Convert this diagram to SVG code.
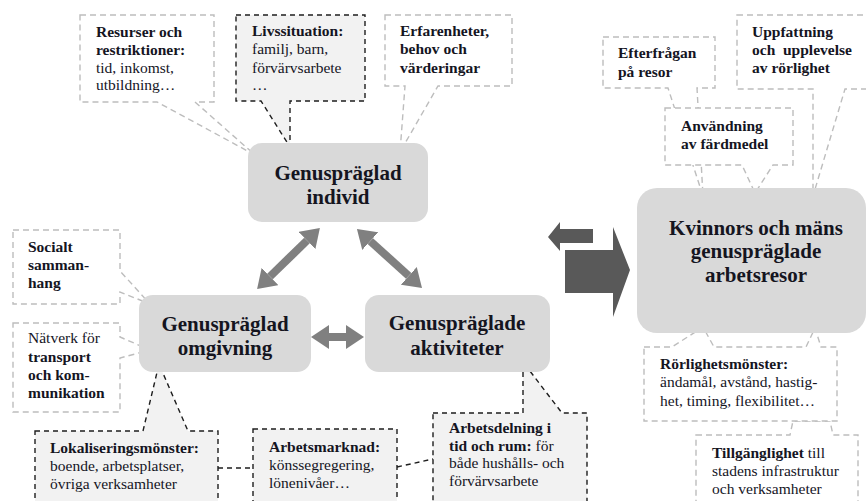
<svg xmlns="http://www.w3.org/2000/svg" width="866" height="501" viewBox="0 0 866 501" font-family="'Liberation Serif', 'Times New Roman', serif">
<defs>
<style>
.lt{fill:#fff;stroke:#bdbdbd;stroke-width:1.4;stroke-dasharray:6 4;}
.dk{fill:#f2f2f2;stroke:#1e1e1e;stroke-width:1.4;stroke-dasharray:5 4;}
.node{fill:#d9d9d9;}
text{font-family:'Liberation Serif','Times New Roman',serif;fill:#15151f;}
.c{font-size:15.5px;}
.b{font-weight:bold;}
.n{font-size:21px;font-weight:bold;text-anchor:middle;}
.dbl{stroke:#808080;stroke-width:8;fill:none;}
.dl{stroke:#1e1e1e;stroke-width:1.4;stroke-dasharray:5 4;fill:none;}
.big{fill:#595959;}
</style>
<marker id="ah" viewBox="0 -12 18 24" refX="0" refY="0" markerWidth="18" markerHeight="24" markerUnits="userSpaceOnUse" orient="auto-start-reverse">
<path d="M0,-12 L18,0 L0,12 Z" fill="#808080"/>
</marker>
</defs>
<rect width="866" height="501" fill="#fff"/>

<g id="resurser">
<path class="lt" d="M80,15 H214 V102 H195 L255,155 L157,102 H80 Z"/>
<text class="c b" x="96" y="37">Resurser och</text>
<text class="c b" x="96" y="55">restriktioner:</text>
<text class="c" x="96" y="73">tid, inkomst,</text>
<text class="c" x="96" y="90">utbildning…</text>
</g>
<g id="livssituation">
<path class="dk" d="M236,15 H365 V101 H290 V147 L261,101 H236 Z"/>
<text class="c b" x="252" y="36">Livssituation:</text>
<text class="c" x="252" y="54">familj, barn,</text>
<text class="c" x="252" y="73">förvärvsarbete</text>
<text class="c" x="252" y="90">…</text>
</g>
<g id="erfarenheter">
<path class="lt" d="M385,15 H512 V86 H438 L400,152 L405,86 H385 Z"/>
<text class="c b" x="400" y="36">Erfarenheter,</text>
<text class="c b" x="400" y="54">behov och</text>
<text class="c b" x="400" y="73">värderingar</text>
</g>
<g id="efterfragan">
<path class="lt" d="M603,37 H715 V88 H697 L703,196 L668,88 H603 Z"/>
<text class="c b" x="618" y="58">Efterfrågan</text>
<text class="c b" x="618" y="77">på resor</text>
</g>
<g id="uppfattning">
<path class="lt" d="M737,15 H880 V89 H845 L813,196 L813,89 H737 Z"/>
<text class="c b" x="752" y="37">Uppfattning</text>
<text class="c b" x="752" y="55" xml:space="preserve">och  upplevelse</text>
<text class="c b" x="752" y="73">av rörlighet</text>
</g>
<g id="anvandning">
<path class="lt" d="M665,108 H793 V165 H773 L755,193 L742,165 H665 Z"/>
<text class="c b" x="681" y="131">Användning</text>
<text class="c b" x="681" y="149">av färdmedel</text>
</g>
<g id="socialt">
<path class="lt" d="M13,230 H120 V271 L150,304 L120,292 V304 H13 Z"/>
<text class="c b" x="28" y="252">Socialt</text>
<text class="c b" x="28" y="270">samman-</text>
<text class="c b" x="28" y="288">hang</text>
</g>
<g id="natverk">
<path class="lt" d="M13,323 H120 V337 L150,350 L120,358 V412 H13 Z"/>
<text class="c" x="28" y="343">Nätverk för</text>
<text class="c b" x="28" y="362">transport</text>
<text class="c b" x="28" y="380">och kom-</text>
<text class="c b" x="28" y="398">munikation</text>
</g>
<g id="lokalisering">
<path class="dk" d="M35,431 H143 L159,364 L188,431 H218 V512 H35 Z"/>
<text class="c b" x="50" y="453">Lokaliseringsmönster:</text>
<text class="c" x="50" y="471">boende, arbetsplatser,</text>
<text class="c" x="50" y="489">övriga verksamheter</text>
</g>
<g id="arbetsmarknad">
<path class="dk" d="M253,429 H397 V512 H253 Z"/>
<text class="c b" x="269" y="452">Arbetsmarknad:</text>
<text class="c" x="269" y="470">könssegregering,</text>
<text class="c" x="269" y="488">lönenivåer…</text>
</g>
<g id="arbetsdelning">
<path class="dk" d="M433,413 H523 V362 L562,413 H587 V512 H433 Z"/>
<text class="c b" x="449" y="433">Arbetsdelning i</text>
<text class="c" x="449" y="451"><tspan class="b">tid och rum:</tspan> för</text>
<text class="c" x="449" y="468">både hushålls- och</text>
<text class="c" x="449" y="486">förvärvsarbete</text>
</g>
<g id="tillganglighet">
<path class="lt" d="M696,435 H790 L793,421 H830 L833,435 H858 V512 H696 Z"/>
<text class="c" x="712" y="458"><tspan class="b">Tillgänglighet</tspan> till</text>
<text class="c" x="712" y="476">stadens infrastruktur</text>
<text class="c" x="712" y="494">och verksamheter</text>
</g>
<g id="rorlighet">
<path class="lt" d="M644,347 H672 L703,327 L714,347 H806 L815,328 L821,347 H837 V421 H644 Z"/>
<text class="c b" x="660" y="369">Rörlighetsmönster:</text>
<text class="c" x="660" y="387">ändamål, avstånd, hastig-</text>
<text class="c" x="660" y="406">het, timing, flexibilitet…</text>
</g>

<g id="individ">
<rect class="node" x="248" y="143" width="180" height="79" rx="14"/>
<text class="n" x="338" y="180">Genuspräglad</text>
<text class="n" x="338" y="204">individ</text>
</g>
<g id="omgivning">
<rect class="node" x="139" y="295" width="172" height="77" rx="14"/>
<text class="n" x="225" y="331">Genuspräglad</text>
<text class="n" x="225" y="355">omgivning</text>
</g>
<g id="aktiviteter">
<rect class="node" x="365" y="295" width="185" height="77" rx="14"/>
<text class="n" x="457" y="330">Genuspräglade</text>
<text class="n" x="457" y="355">aktiviteter</text>
</g>
<g id="arbetsresor">
<rect class="node" x="637" y="188" width="229" height="145" rx="20"/>
<text class="n" x="756" y="235">Kvinnors och mäns</text>
<text class="n" x="756" y="258">genuspräglade</text>
<text class="n" x="756" y="282">arbetsresor</text>
</g>

<g id="connectors">
<line class="dbl" x1="270" y1="276.5" x2="307" y2="240.5" marker-start="url(#ah)" marker-end="url(#ah)"/>
<line class="dbl" x1="370.3" y1="241.1" x2="408.7" y2="275.9" marker-start="url(#ah)" marker-end="url(#ah)"/>
<line class="dbl" x1="329" y1="337" x2="346" y2="337" marker-start="url(#ah)" marker-end="url(#ah)"/>
<path class="big" d="M593,229 H560 V222 L548,237 L560,251 V243 H593 Z"/>
<path class="big" d="M565,250 H613 V227 L630,270 L613,317 V293 H565 Z"/>
<path class="dl" d="M218,468 H253"/>
<path class="dl" d="M397,467 L433,459"/>
</g>
</svg>
